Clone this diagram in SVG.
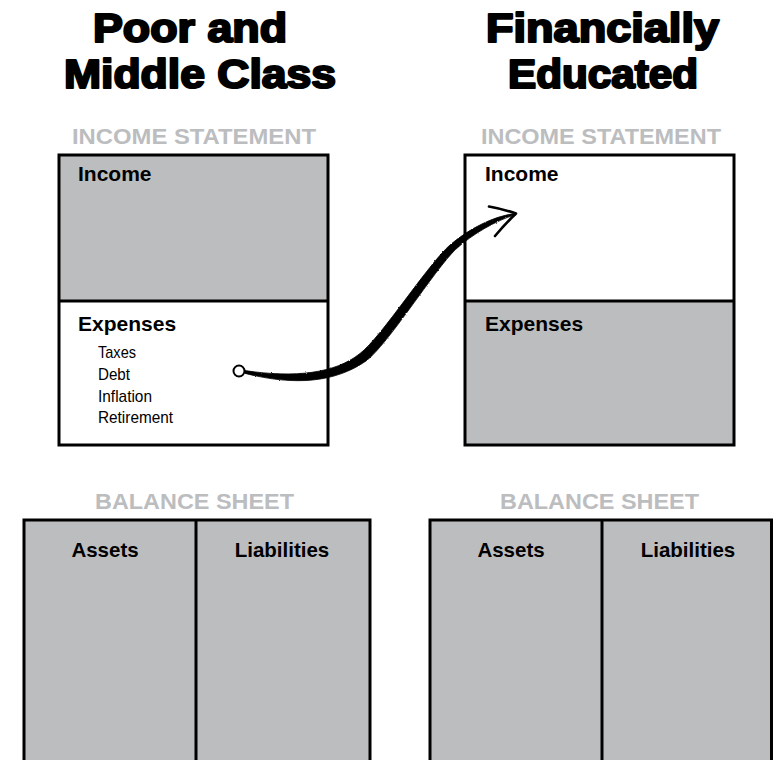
<svg xmlns="http://www.w3.org/2000/svg" width="773" height="760" viewBox="0 0 773 760">
<style>
.title{font-family:"Liberation Sans",Arial,sans-serif;font-weight:bold;font-size:40px;fill:#000;stroke:#000;stroke-width:2.2px;stroke-linejoin:round}
.hdr{font-family:"Liberation Sans",Arial,sans-serif;font-weight:bold;font-size:22px;fill:#bcbdbf}
.lbl{font-family:"Liberation Sans",Arial,sans-serif;font-weight:bold;font-size:21px;fill:#000}
.bl{font-family:"Liberation Sans",Arial,sans-serif;font-weight:bold;font-size:20.5px;fill:#000}
.item{font-family:"Liberation Sans",Arial,sans-serif;font-size:17px;fill:#000}
.box{stroke:#000;stroke-width:3}
.gray{fill:#bcbdbf}
.white{fill:#fff}
.line{stroke:#000;stroke-width:3;fill:none}
</style>
<defs>
<filter id="rough" x="-5%" y="-5%" width="110%" height="110%">
<feTurbulence type="fractalNoise" baseFrequency="0.6" numOctaves="2" seed="3" result="n"/>
<feDisplacementMap in="SourceGraphic" in2="n" scale="2" xChannelSelector="R" yChannelSelector="G"/>
</filter>
</defs>
<rect width="773" height="760" fill="#fff"/>

<g id="titles">
<text class="title" x="93" y="42" textLength="194" lengthAdjust="spacingAndGlyphs">Poor and</text>
<text class="title" x="64" y="88" textLength="272" lengthAdjust="spacingAndGlyphs">Middle Class</text>
<text class="title" x="486" y="42" textLength="233" lengthAdjust="spacingAndGlyphs">Financially</text>
<text class="title" x="508" y="88" textLength="190" lengthAdjust="spacingAndGlyphs">Educated</text>
</g>

<g id="left-income-statement">
<text class="hdr" x="72" y="144" textLength="244" lengthAdjust="spacingAndGlyphs">INCOME STATEMENT</text>
<rect class="gray" x="59" y="155" width="269" height="146"/>
<rect class="white" x="59" y="301" width="269" height="144"/>
<rect class="box" x="59" y="155" width="269" height="290" fill="none"/>
<line class="line" x1="59" y1="301" x2="328" y2="301"/>
<text class="lbl" x="78" y="181">Income</text>
<text class="lbl" x="78" y="331">Expenses</text>
<text class="item" x="98" y="358" textLength="38" lengthAdjust="spacingAndGlyphs">Taxes</text>
<text class="item" x="98" y="380" textLength="32" lengthAdjust="spacingAndGlyphs">Debt</text>
<text class="item" x="98" y="402" textLength="54" lengthAdjust="spacingAndGlyphs">Inflation</text>
<text class="item" x="98" y="423" textLength="75" lengthAdjust="spacingAndGlyphs">Retirement</text>
</g>

<g id="right-income-statement">
<text class="hdr" x="481" y="144" textLength="240" lengthAdjust="spacingAndGlyphs">INCOME STATEMENT</text>
<rect class="white" x="465" y="155" width="269" height="146"/>
<rect class="gray" x="465" y="301" width="269" height="144"/>
<rect class="box" x="465" y="155" width="269" height="290" fill="none"/>
<line class="line" x1="465" y1="301" x2="734" y2="301"/>
<text class="lbl" x="485" y="181">Income</text>
<text class="lbl" x="485" y="331">Expenses</text>
</g>

<g id="left-balance-sheet">
<text class="hdr" x="95" y="509" textLength="199" lengthAdjust="spacingAndGlyphs">BALANCE SHEET</text>
<rect class="gray box" x="24" y="520" width="346" height="260"/>
<line class="line" x1="196" y1="520" x2="196" y2="770"/>
<text class="bl" x="105" y="557" text-anchor="middle">Assets</text>
<text class="bl" x="282" y="557" text-anchor="middle">Liabilities</text>
</g>

<g id="right-balance-sheet">
<text class="hdr" x="500" y="509" textLength="199" lengthAdjust="spacingAndGlyphs">BALANCE SHEET</text>
<rect class="gray box" x="430" y="520" width="341.5" height="260"/>
<line class="line" x1="602" y1="520" x2="602" y2="770"/>
<text class="bl" x="511" y="557" text-anchor="middle">Assets</text>
<text class="bl" x="688" y="557" text-anchor="middle">Liabilities</text>
</g>

<g id="connectors">
<path filter="url(#rough)" d="M245,370.6 C295,378 335,373.5 360,353.5 C382,336.5 428,264 450.5,244.5 C469.5,228.5 494,216 515,213.5 L515,214.8 C496.5,220.5 473,233.5 455.5,249.5 C434,270.5 388,344.5 366,361 C335,382.5 295,386 245,373.4 Z" fill="#000" stroke="#000" stroke-width="0.8" stroke-linejoin="round"/>
<path d="M489,206.5 Q503,209 516,213.5 Q506,223 495,236" fill="none" stroke="#000" stroke-width="2.6" stroke-linecap="round" stroke-linejoin="round"/>
<circle cx="239" cy="371" r="5.5" fill="#fff" stroke="#000" stroke-width="2"/>
</g>
</svg>
